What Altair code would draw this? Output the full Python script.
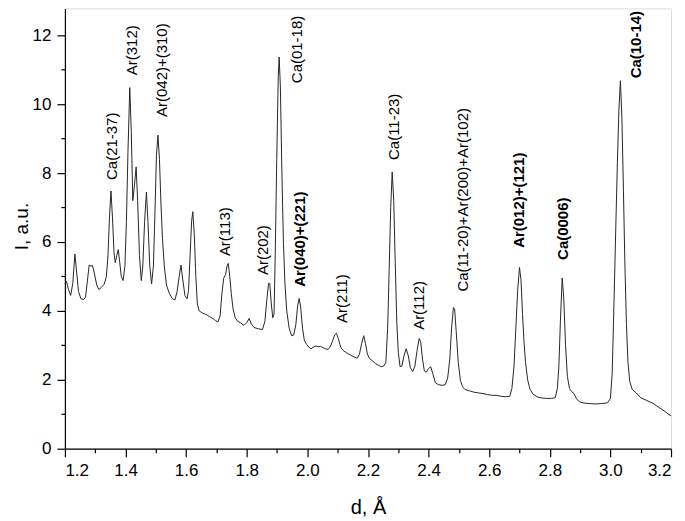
import altair as alt
import pandas as pd

# ---- spectrum ----
d_values = [
    1.200, 1.205, 1.212, 1.219, 1.226, 1.233, 1.239, 1.245, 1.253, 1.262, 1.268, 1.274, 1.280, 1.286,
    1.291, 1.297, 1.305, 1.312, 1.320, 1.330, 1.337, 1.342, 1.347, 1.352, 1.357, 1.362, 1.366, 1.371,
    1.376, 1.381, 1.386, 1.392, 1.398, 1.403, 1.408, 1.414, 1.419, 1.424, 1.429, 1.435, 1.440, 1.446,
    1.452, 1.457, 1.463, 1.469, 1.474, 1.480, 1.486, 1.492, 1.497, 1.502, 1.507, 1.512, 1.517, 1.522,
    1.528, 1.535, 1.545, 1.555, 1.563, 1.570, 1.577, 1.583, 1.589, 1.596, 1.603, 1.608, 1.613, 1.618,
    1.622, 1.627, 1.632, 1.637, 1.643, 1.655, 1.665, 1.676, 1.688, 1.697, 1.705, 1.712, 1.718, 1.724,
    1.730, 1.735, 1.739, 1.744, 1.749, 1.755, 1.762, 1.770, 1.780, 1.791, 1.800, 1.808, 1.815, 1.824,
    1.838, 1.852, 1.860, 1.866, 1.872, 1.876, 1.881, 1.886, 1.890, 1.894, 1.899, 1.904, 1.907, 1.911,
    1.916, 1.921, 1.926, 1.932, 1.940, 1.948, 1.955, 1.962, 1.968, 1.973, 1.978, 1.984, 1.990, 1.998,
    2.005, 2.012, 2.020, 2.028, 2.036, 2.044, 2.052, 2.060, 2.068, 2.075, 2.082, 2.090, 2.096, 2.102,
    2.110, 2.118, 2.130, 2.142, 2.155, 2.165, 2.172, 2.179, 2.186, 2.192, 2.198, 2.205, 2.215, 2.225,
    2.235, 2.244, 2.252, 2.259, 2.265, 2.270, 2.275, 2.280, 2.285, 2.290, 2.295, 2.300, 2.306, 2.312,
    2.319, 2.326, 2.333, 2.340, 2.348, 2.355, 2.362, 2.369, 2.374, 2.380, 2.386, 2.392, 2.400, 2.407,
    2.414, 2.422, 2.432, 2.445, 2.455, 2.463, 2.470, 2.476, 2.482, 2.486, 2.492, 2.498, 2.505, 2.512,
    2.520, 2.535, 2.550, 2.565, 2.580, 2.595, 2.610, 2.625, 2.640, 2.655, 2.668, 2.675, 2.682, 2.688,
    2.694, 2.700, 2.705, 2.710, 2.715, 2.720, 2.727, 2.735, 2.745, 2.760, 2.775, 2.790, 2.805, 2.818,
    2.825, 2.830, 2.835, 2.841, 2.846, 2.852, 2.858, 2.865, 2.872, 2.880, 2.888, 2.898, 2.910, 2.930,
    2.950, 2.970, 2.990, 3.000, 3.006, 3.012, 3.018, 3.023, 3.028, 3.033, 3.038, 3.043, 3.048, 3.053,
    3.058, 3.064, 3.072, 3.085, 3.100, 3.120, 3.140, 3.160, 3.180, 3.200,
]
i_values = [
    4.80, 4.86, 4.62, 4.45, 4.80, 5.65, 5.10, 4.56, 4.35, 4.33, 4.40, 4.85, 5.33, 5.30,
    5.32, 5.10, 4.75, 4.62, 4.68, 4.78, 5.00, 5.60, 6.70, 7.48, 6.70, 5.70, 5.40, 5.60,
    5.78, 5.40, 5.00, 4.88, 5.30, 6.60, 8.60, 10.48, 9.20, 7.20, 7.60, 8.18, 7.20, 5.60,
    4.88, 5.30, 6.60, 7.45, 6.60, 5.30, 4.78, 5.30, 6.80, 8.50, 9.10, 8.40, 7.10, 6.10,
    5.30, 4.75, 4.50, 4.35, 4.32, 4.55, 5.00, 5.33, 4.90, 4.45, 4.35, 4.60, 5.60, 6.60,
    6.88, 6.20, 5.00, 4.20, 4.00, 3.93, 3.90, 3.84, 3.78, 3.72, 3.68, 3.85, 4.50, 4.95,
    5.05, 5.30, 5.38, 5.00, 4.50, 4.05, 3.80, 3.70, 3.65, 3.58, 3.66, 3.78, 3.62, 3.52,
    3.48, 3.46, 3.70, 4.30, 4.80, 4.80, 4.20, 3.80, 3.90, 5.60, 8.40, 10.80, 11.37, 10.50,
    8.00, 6.00, 4.80, 4.00, 3.50, 3.28, 3.30, 3.60, 4.15, 4.36, 4.10, 3.50, 3.15, 3.02,
    2.95, 2.90, 2.95, 2.98, 2.96, 2.97, 2.93, 2.90, 2.88, 2.95, 3.10, 3.30, 3.35, 3.20,
    2.95, 2.85, 2.78, 2.72, 2.66, 2.63, 2.75, 3.05, 3.28, 3.05, 2.75, 2.62, 2.55, 2.47,
    2.42, 2.38, 2.40, 2.50, 3.50, 5.20, 7.00, 8.03, 7.20, 5.40, 3.70, 2.80, 2.38, 2.40,
    2.70, 2.90, 2.70, 2.35, 2.24, 2.40, 2.85, 3.20, 3.10, 2.60, 2.26, 2.22, 2.33, 2.38,
    2.18, 1.92, 1.86, 1.84, 1.86, 2.05, 2.60, 3.50, 4.10, 4.05, 3.30, 2.50, 1.98, 1.80,
    1.72, 1.68, 1.64, 1.62, 1.60, 1.57, 1.55, 1.55, 1.52, 1.51, 1.52, 1.75, 2.40, 3.50,
    4.60, 5.26, 4.90, 3.90, 3.10, 2.50, 2.00, 1.72, 1.58, 1.50, 1.47, 1.46, 1.46, 1.48,
    1.75, 2.40, 3.70, 4.95, 4.40, 3.00, 2.10, 1.75, 1.66, 1.60, 1.45, 1.36, 1.33, 1.31,
    1.30, 1.31, 1.33, 1.45, 2.20, 4.30, 6.50, 8.30, 9.80, 10.68, 9.60, 7.50, 5.30, 3.60,
    2.50, 1.95, 1.72, 1.62, 1.48, 1.40, 1.32, 1.20, 1.08, 0.95,
]

# ---- peak labels ----
label_texts = [
    "Ca(21-37)", "Ar(312)", "Ar(042)+(310)", "Ca(01-18)", "Ar(113)", "Ar(202)",
    "Ar(040)+(221)", "Ar(211)", "Ca(11-23)", "Ar(112)", "Ca(11-20)+Ar(200)+Ar(102)",
    "Ar(012)+(121)", "Ca(0006)", "Ca(10-14)",
]
label_d = [1.354, 1.422, 1.521, 1.966, 1.729, 1.854, 1.976, 2.115, 2.286, 2.370, 2.514, 2.700, 2.845, 3.083]
label_i = [7.80, 10.84, 9.63, 10.61, 5.59, 5.04, 4.70, 3.65, 8.38, 3.45, 4.56, 5.83, 5.48, 10.75]
label_bold = [False, False, False, False, False, False, True, False, False, False, False, True, True, True]

x_major = [1.2, 1.4, 1.6, 1.8, 2.0, 2.2, 2.4, 2.6, 2.8, 3.0, 3.2]
x_minor = [1.3, 1.5, 1.7, 1.9, 2.1, 2.3, 2.5, 2.7, 2.9, 3.1]
y_major = [0, 2, 4, 6, 8, 10, 12]
y_minor = [1, 3, 5, 7, 9, 11]

spec = pd.DataFrame({"d": d_values, "I": i_values})
labels = pd.DataFrame({"x": label_d, "y": label_i, "label": label_texts, "bold": label_bold})

FONT = "Liberation Sans"
xscale = alt.Scale(domain=[1.2, 3.2], nice=False, zero=False)
yscale = alt.Scale(domain=[0, 12.78], nice=False, zero=True)

minor = alt.Chart(spec).mark_line(opacity=0).encode(
    x=alt.X("d:Q", scale=xscale, axis=alt.Axis(
        orient="bottom", values=x_minor, labels=False, domain=False, grid=False,
        tickSize=4, tickColor="black", tickWidth=1.2, title="")),
    y=alt.Y("I:Q", scale=yscale, axis=alt.Axis(
        orient="left", values=y_minor, labels=False, domain=False, grid=False,
        tickSize=4, tickColor="black", tickWidth=1.2, title="")),
)

line = alt.Chart(spec).mark_line(color="#262626", strokeWidth=1).encode(
    x=alt.X("d:Q", scale=xscale, axis=alt.Axis(
        orient="bottom", values=x_major, format=".1f", grid=False,
        tickSize=8, tickColor="black", tickWidth=1.2,
        domainColor="black", domainWidth=1.2,
        labelFont=FONT, labelFontSize=17, labelColor="black", labelPadding=6,
        title="d, Å", titleFont=FONT, titleFontSize=20, titleFontWeight="normal",
        titleColor="black", titleBaseline="alphabetic", titleY=65)),
    y=alt.Y("I:Q", scale=yscale, axis=alt.Axis(
        orient="left", values=y_major, format="d", grid=False,
        tickSize=8, tickColor="black", tickWidth=1.2,
        domainColor="black", domainWidth=1.2,
        labelFont=FONT, labelFontSize=17, labelColor="black", labelPadding=6,
        title="I, a.u.", titleFont=FONT, titleFontSize=19, titleFontWeight="normal",
        titleColor="black", titleBaseline="alphabetic", titleAngle=270,
        titleX=-37, titleY=218, titleAlign="center")),
)

text_norm = alt.Chart(labels).transform_filter("!datum.bold").mark_text(
    angle=270, align="left", baseline="middle", font=FONT, fontSize=15, color="black"
).encode(
    x=alt.X("x:Q", scale=xscale, axis=None),
    y=alt.Y("y:Q", scale=yscale, axis=None),
    text="label:N",
)
text_bold = alt.Chart(labels).transform_filter("datum.bold").mark_text(
    angle=270, align="left", baseline="middle", font=FONT, fontSize=15, fontWeight="bold", color="black"
).encode(
    x=alt.X("x:Q", scale=xscale, axis=None),
    y=alt.Y("y:Q", scale=yscale, axis=None),
    text="label:N",
)

chart = alt.layer(minor, line, text_norm, text_bold).resolve_axis(
    x="independent", y="independent"
).properties(
    width=607, height=441,
    autosize=alt.AutoSizeParams(type="none"),
    padding={"left": 57, "top": 0, "right": 6, "bottom": 70},
).configure_view(stroke="black", strokeWidth=1.2).configure(background="white")

chart.save("out.html", embed_options={"renderer": "svg", "actions": False})
